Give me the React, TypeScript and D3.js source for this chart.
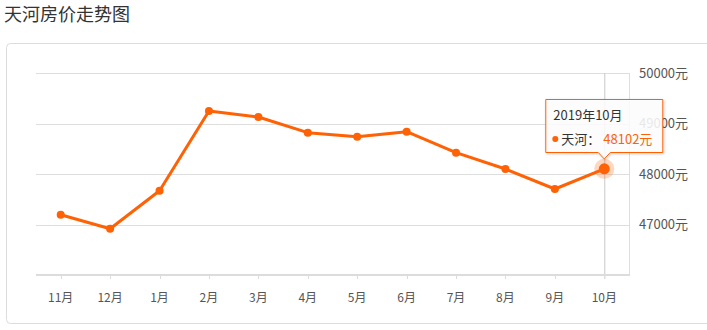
import React from "react";
import * as d3 from "d3";

const title = "天河房价走势图";
const months = ["11月", "12月", "1月", "2月", "3月", "4月", "5月", "6月", "7月", "8月", "9月", "10月"];
const prices = [47194, 46917, 47669, 49248, 49129, 48818, 48739, 48838, 48422, 48099, 47703, 48102];
const yTicks = [47000, 48000, 49000, 50000];
const seriesName = "天河";
const tooltipTitle = "2019年10月";
const activeIndex = 11;

const W = 707;
const H = 330;
const FONT = "'Microsoft YaHei', 'Noto Sans CJK SC', sans-serif";
const ORANGE = "#ff6105";

export default function App() {
  const left = 36, right = 629, top = 73, bottom = 275;
  const x = d3.scaleBand<string>().domain(months).range([left, right]);
  const y = d3.scaleLinear().domain([46000, 50000]).range([bottom, top]);
  const cx = (m: string) => (x(m) as number) + x.bandwidth() / 2;
  const line = d3
    .line<number>()
    .x((_, i) => cx(months[i]))
    .y((d) => y(d));

  const ax = cx(months[activeIndex]);
  const ay = y(prices[activeIndex]);
  const tipW = 118, tipH = 54;
  const tipX = ax - tipW / 2;
  const tipY = 99;

  return (
    <div style={{ position: "fixed", left: 0, top: 0, width: W, height: H, background: "#fff" }}>
      <svg width={W} height={H} style={{ display: "block", fontFamily: FONT }}>
        <defs>
          <filter id="shadow" x="-20%" y="-20%" width="140%" height="150%">
            <feDropShadow dx="1" dy="1" stdDeviation="1.5" floodColor="#000" floodOpacity="0.2" />
          </filter>
        </defs>
        <text x={4} y={21} fontSize={18} fill="#333">
          {title}
        </text>
        <rect x={6.5} y={43.5} width={720} height={280} rx={4} fill="#fff" stroke="#dcdcdc" />
        {yTicks.map((t) => (
          <line key={t} x1={left} x2={right} y1={Math.round(y(t)) + 0.5} y2={Math.round(y(t)) + 0.5} stroke="#dedede" />
        ))}
        <line x1={right + 0.5} x2={right + 0.5} y1={top} y2={bottom} stroke="#dedede" />
        <line x1={ax + 0.5} x2={ax + 0.5} y1={top} y2={bottom + 4} stroke="#c8c8c8" />
        <line x1={left} x2={right + 1} y1={bottom} y2={bottom} stroke="#dcdcdc" strokeWidth={2} />
        {months.map((m) => (
          <g key={m}>
            <line x1={Math.round(cx(m)) + 0.5} x2={Math.round(cx(m)) + 0.5} y1={bottom} y2={bottom + 4} stroke="#dcdcdc" />
            <text x={cx(m)} y={302} fontSize={12} fill="#555" textAnchor="middle">
              {m}
            </text>
          </g>
        ))}
        {yTicks.map((t) => (
          <text key={t} x={639} y={y(t) + 4.5} fontSize={13} fill="#555">
            {t + "元"}
          </text>
        ))}
        <path d={line(prices) as string} fill="none" stroke={ORANGE} strokeWidth={3} strokeLinejoin="round" />
        {prices.map((p, i) =>
          i === activeIndex ? null : <circle key={i} cx={cx(months[i])} cy={y(p)} r={4} fill={ORANGE} />
        )}
        <circle cx={ax} cy={ay} r={10} fill={ORANGE} opacity={0.25} />
        <circle cx={ax} cy={ay} r={5.5} fill={ORANGE} />
        <g filter="url(#shadow)">
          <path
            d={`M${tipX + 0.5},${tipY + 0.5} H${tipX + tipW - 0.5} V${tipY + tipH - 0.5} H${ax + 6} L${ax},${tipY + tipH + 6} L${ax - 6},${tipY + tipH - 0.5} H${tipX + 0.5} Z`}
            fill="#fff"
            fillOpacity={0.85}
            stroke={ORANGE}
            strokeWidth={1}
          />
        </g>
        <text x={tipX + 8} y={tipY + 21} fontSize={13} fill="#333">
          {tooltipTitle}
        </text>
        <circle cx={tipX + 10} cy={tipY + 40} r={3} fill={ORANGE} />
        <text x={tipX + 16} y={tipY + 44.5} fontSize={13} fill="#333">
          {seriesName + "："}
        </text>
        <text x={tipX + 58} y={tipY + 44.5} fontSize={13} fill={ORANGE}>
          {prices[activeIndex] + "元"}
        </text>
      </svg>
    </div>
  );
}
